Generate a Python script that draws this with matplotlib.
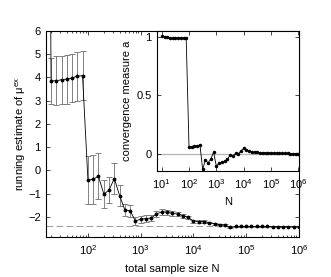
import numpy as np
import matplotlib
matplotlib.use('Agg')
import matplotlib.pyplot as plt

plt.rcParams['font.family'] = ['Liberation Sans', 'DejaVu Sans']
plt.rcParams['mathtext.fontset'] = 'custom'
plt.rcParams['mathtext.rm'] = 'Liberation Sans'
plt.rcParams['mathtext.it'] = 'Liberation Sans:italic'
plt.rcParams['mathtext.bf'] = 'Liberation Sans:bold'

# total sample size (0.1 decade grid)
N = [10, 13, 16, 20, 25, 32, 40, 50, 63, 79,
     100, 126, 158, 200, 251, 316, 398, 501, 631, 794,
     1000, 1259, 1585, 1995, 2512, 3162, 3981, 5012, 6310, 7943,
     10000, 12589, 15849, 19953, 25119, 31623, 39811, 50119, 63096, 79433,
     100000, 125893, 158489, 199526, 251189, 316228, 398107, 501187, 630957, 794328,
     1000000]

# running estimate of mu^ex and its error bars
mu_ex = [60, 50, 40, 3.85, 3.85, 3.9, 3.92, 3.97, 4.05, 4.07,
         -0.42, -0.38, -0.25, -1.02, -0.85, -0.35, -1.08, -1.7, -1.74, -2.17,
         -2.1, -2.07, -2.05, -1.87, -1.78, -1.8, -1.84, -1.88, -1.95, -2.02,
         -2.18, -2.2, -2.2, -2.24, -2.3, -2.33, -2.35, -2.45, -2.41, -2.41,
         -2.41, -2.41, -2.41, -2.41, -2.41, -2.42, -2.42, -2.42, -2.42, -2.42,
         -2.42]
mu_err = [10, 10, 10, 1.0, 1.05, 1.03, 1.05, 1.05, 1.05, 1.05,
          1.03, 1.05, 1.0, 0.6, 0.55, 0.65, 0.45, 0.27, 0.27, 0.18,
          0.15, 0.14, 0.13, 0.12, 0.12, 0.11, 0.1, 0.09, 0.08, 0.07,
          0.06, 0.05, 0.05, 0.04, 0.04, 0.03, 0.03, 0.03, 0.03, 0.03,
          0.03, 0.03, 0.03, 0.03, 0.03, 0.03, 0.03, 0.03, 0.03, 0.03,
          0.03]
mu_ref = -2.38

# convergence measure a
conv = [1.005, 1.003, 0.995, 0.99, 0.99, 0.99, 0.99, 0.99, 0.99, 0.99,
        0.06, 0.062, 0.065, 0.07, 0.078, -0.13, -0.05, -0.075, -0.04, 0.015,
        -0.105, -0.075, -0.07, -0.062, -0.045, -0.01, -0.018, 0.005, 0.0, 0.027,
        0.048, 0.034, 0.025, 0.02, 0.016, 0.014, 0.012, 0.01, 0.01, 0.009,
        0.008, 0.008, 0.007, 0.006, 0.006, 0.005, 0.005, 0.004, 0.004, 0.003,
        0.003]

fig = plt.figure(figsize=(3.31, 2.77), dpi=100)

ax = fig.add_axes([0.138, 0.1455, 0.765, 0.7435])
ax.errorbar(N, mu_ex, yerr=mu_err, fmt='none', ecolor='#6e6e6e',
            elinewidth=0.6, capsize=2.3, capthick=0.6, zorder=2)
ax.plot(N, mu_ex, '-', color='black', lw=0.6, marker='.', ms=3.5, zorder=3)
ax.axhline(mu_ref, color='#8c8c8c', lw=0.6, ls=(0, (8, 4)), zorder=1)
ax.set_xscale('log')
ax.set_xlim(15.8, 1e6)
ax.set_ylim(-2.85, 6)
ax.set_yticks([-2, -1, 0, 1, 2, 3, 4, 5, 6])
ax.set_xlabel('total sample size N', fontsize=8, labelpad=5)
ax.set_ylabel('running estimate of μ$^{\\mathrm{ex}}$', fontsize=8, labelpad=0)
ax.tick_params(which='both', direction='in', top=True, right=True,
               labelsize=8, width=0.5)
ax.tick_params(which='major', length=3)
ax.tick_params(which='minor', length=1.5)
ax.tick_params(axis='x', which='major', pad=5)
for s in ax.spines.values():
    s.set_linewidth(0.8)

ins = fig.add_axes([0.4734, 0.3838, 0.430, 0.5043])
ins.axhline(0, color='#b4b4b4', lw=0.9, zorder=1)
ins.plot(N, conv, '-', color='black', lw=0.6, marker='.', ms=3, zorder=3)
ins.set_xscale('log')
ins.set_xlim(6.6, 1.05e6)
ins.set_ylim(-0.142, 1.05)
ins.set_yticks([0, 0.5, 1])
ins.set_yticklabels(['0', '0.5', '1'])
ins.set_xticks([1e1, 1e2, 1e3, 1e4, 1e5, 1e6])
ins.set_xlabel('N', fontsize=8, labelpad=4)
ins.set_ylabel('convergence measure a', fontsize=8, labelpad=3)
ins.tick_params(which='both', direction='in', top=True, right=True,
                labelsize=8, width=0.5)
ins.tick_params(which='major', length=3)
ins.tick_params(which='minor', length=1.5)
ins.tick_params(axis='x', which='major', pad=5)
for s in ins.spines.values():
    s.set_linewidth(0.8)

fig.savefig('out.png', dpi=100)
